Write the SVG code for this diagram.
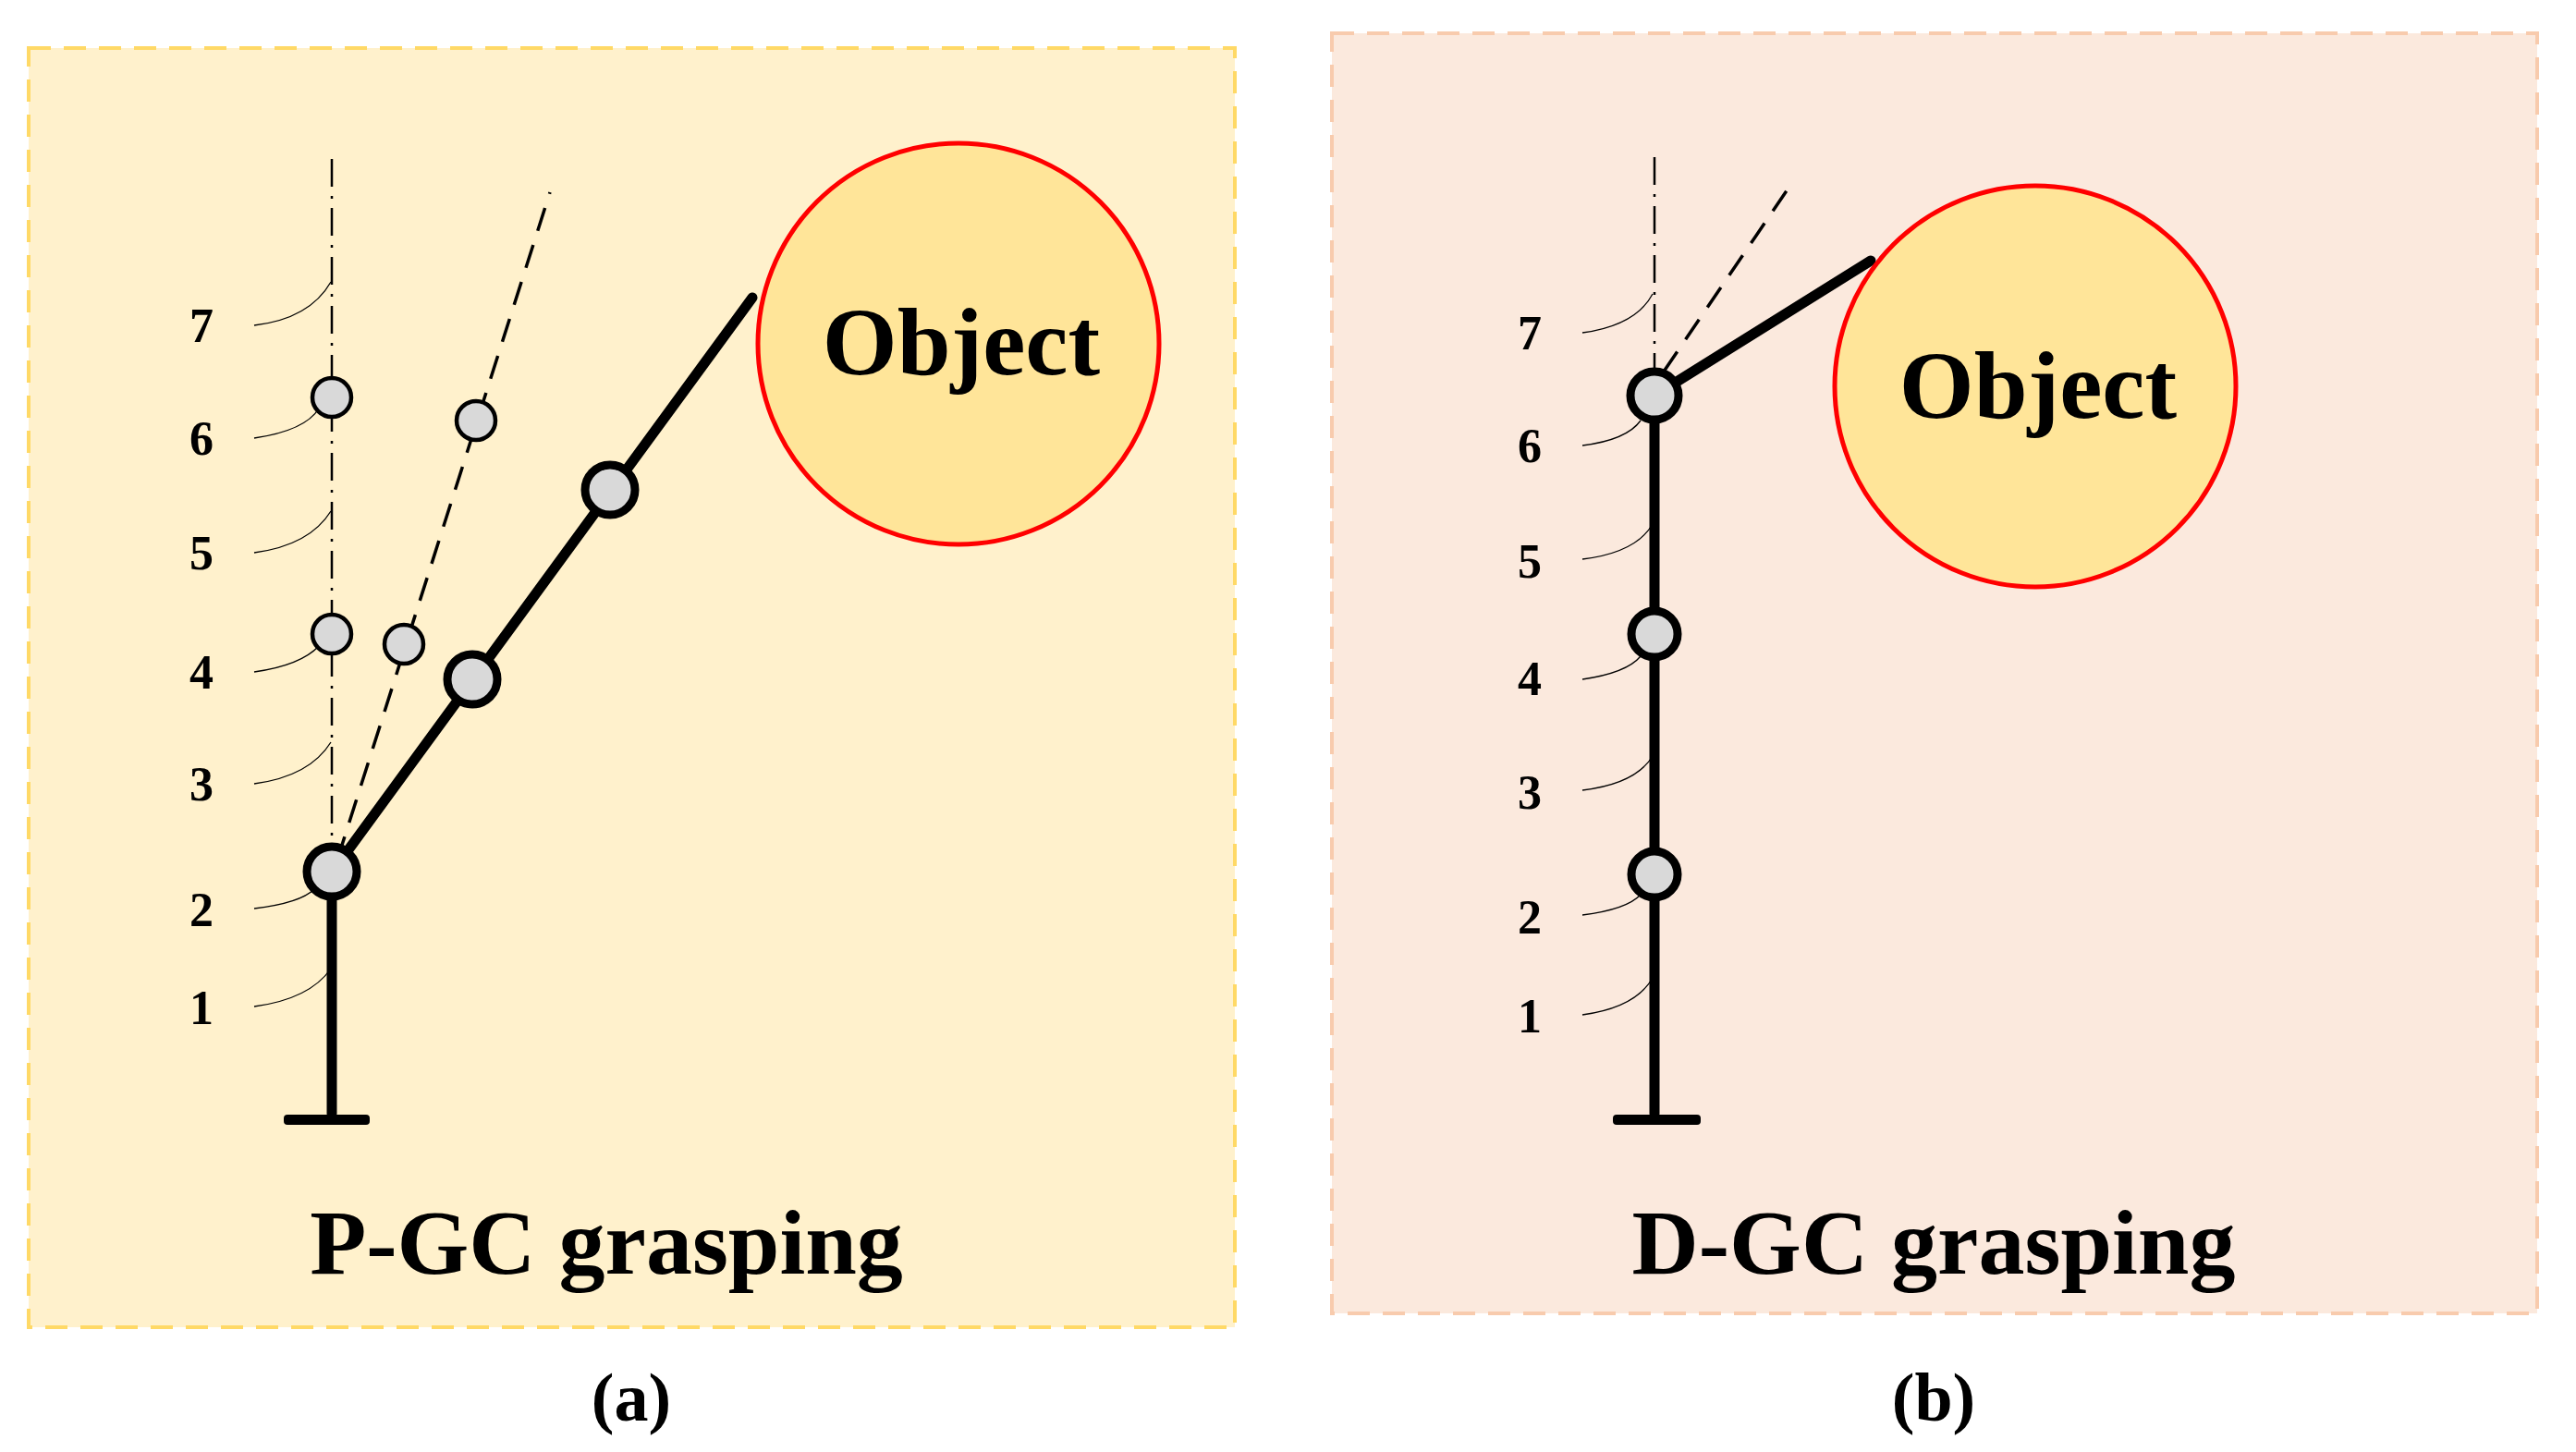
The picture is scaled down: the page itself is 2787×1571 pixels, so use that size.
<svg xmlns="http://www.w3.org/2000/svg" width="2787" height="1571" viewBox="0 0 2787 1571">
<style>
.t{font-family:"Liberation Serif",serif;font-weight:bold;fill:#000;text-anchor:middle}
.n{font-size:52px}
.lead{fill:none;stroke:#000;stroke-width:1.3}
.rod{stroke:#000;stroke-width:11;stroke-linecap:round;fill:none}
.big{fill:#D9D9D9;stroke:#000;stroke-width:9}
.sm{fill:#D9D9D9;stroke:#000;stroke-width:4.5}
.obj{fill:#FFE599;stroke:#FF0000;stroke-width:5}
.dd{stroke:#000;stroke-width:2.5;stroke-dasharray:30 10 3 10;fill:none}
.da{stroke:#000;stroke-width:3.5;stroke-dasharray:26 16;fill:none}
</style>
<rect width="2787" height="1571" fill="#fff"/>
<g id="panel-a">
<rect x="31" y="52" width="1305" height="1384" fill="#FFF1CC" stroke="#FFD966" stroke-width="4" stroke-dasharray="24 14"/>
<line class="dd" x1="359" y1="172" x2="359" y2="930"/>
<line class="da" x1="365" y1="930" x2="595" y2="208"/>
<g class="lead">
<path d="M275,352 Q335,345 358,305"/><path d="M275,474 Q330,466 345,442"/>
<path d="M275,598 Q335,590 358,553"/><path d="M275,727 Q325,720 345,699"/>
<path d="M275,848 Q335,840 358,803"/><path d="M275,983 Q325,977 340,962"/>
<path d="M275,1089 Q335,1081 358,1048"/>
</g>
<g class="t n"><text x="218" y="370">7</text><text x="218" y="492">6</text><text x="218" y="616">5</text><text x="218" y="745">4</text><text x="218" y="866">3</text><text x="218" y="1002">2</text><text x="218" y="1108">1</text></g>
<line class="rod" x1="359" y1="944" x2="359" y2="1205"/>
<rect x="307" y="1206" width="93" height="11" rx="4" fill="#000"/>
<line class="rod" x1="359" y1="944" x2="814" y2="322" stroke-linecap="butt"/>
<circle class="sm" cx="359" cy="430" r="21"/><circle class="sm" cx="515" cy="455" r="21"/>
<circle class="sm" cx="359" cy="686" r="21"/><circle class="sm" cx="437" cy="697" r="21"/>
<circle class="big" cx="359" cy="943" r="27"/><circle class="big" cx="511" cy="735" r="27"/><circle class="big" cx="660" cy="530" r="27"/>
<g id="object-a"><circle class="obj" cx="1037" cy="372" r="217"/><text class="t" x="1040" y="405" font-size="104">Object</text></g>
<text class="t" x="656" y="1378" font-size="100">P-GC grasping</text>
</g>
<g id="panel-b">
<rect x="1441" y="36" width="1304" height="1385" fill="#FBE9DD" stroke="#F8CBAD" stroke-width="4" stroke-dasharray="24 14"/>
<line class="dd" x1="1790" y1="170" x2="1790" y2="400"/>
<line class="da" x1="1800" y1="402" x2="1936" y2="202"/>
<g class="lead">
<path d="M1712,360 Q1770,352 1788,318"/><path d="M1712,482 Q1760,476 1775,455"/>
<path d="M1712,605 Q1770,598 1788,567"/><path d="M1712,735 Q1760,728 1775,710"/>
<path d="M1712,855 Q1770,848 1788,818"/><path d="M1712,990 Q1760,984 1775,968"/>
<path d="M1712,1098 Q1770,1090 1788,1058"/>
</g>
<g class="t n"><text x="1655" y="378">7</text><text x="1655" y="500">6</text><text x="1655" y="625">5</text><text x="1655" y="752">4</text><text x="1655" y="875">3</text><text x="1655" y="1010">2</text><text x="1655" y="1117">1</text></g>
<line class="rod" x1="1790" y1="428" x2="1790" y2="1205"/>
<rect x="1745" y="1206" width="95" height="11" rx="4" fill="#000"/>
<line class="rod" x1="1790" y1="428" x2="2024" y2="282" stroke-linecap="butt"/>
<circle class="big" cx="1790" cy="428" r="26"/><circle class="big" cx="1790" cy="686" r="25"/><circle class="big" cx="1790" cy="946" r="25"/>
<g id="object-b"><circle class="obj" cx="2202" cy="418" r="217"/><text class="t" x="2205" y="452" font-size="104">Object</text></g>
<text class="t" x="2092" y="1378" font-size="100">D-GC grasping</text>
</g>
<text class="t" x="683" y="1537" font-size="74">(a)</text>
<text class="t" x="2092" y="1537" font-size="74">(b)</text>
</svg>
